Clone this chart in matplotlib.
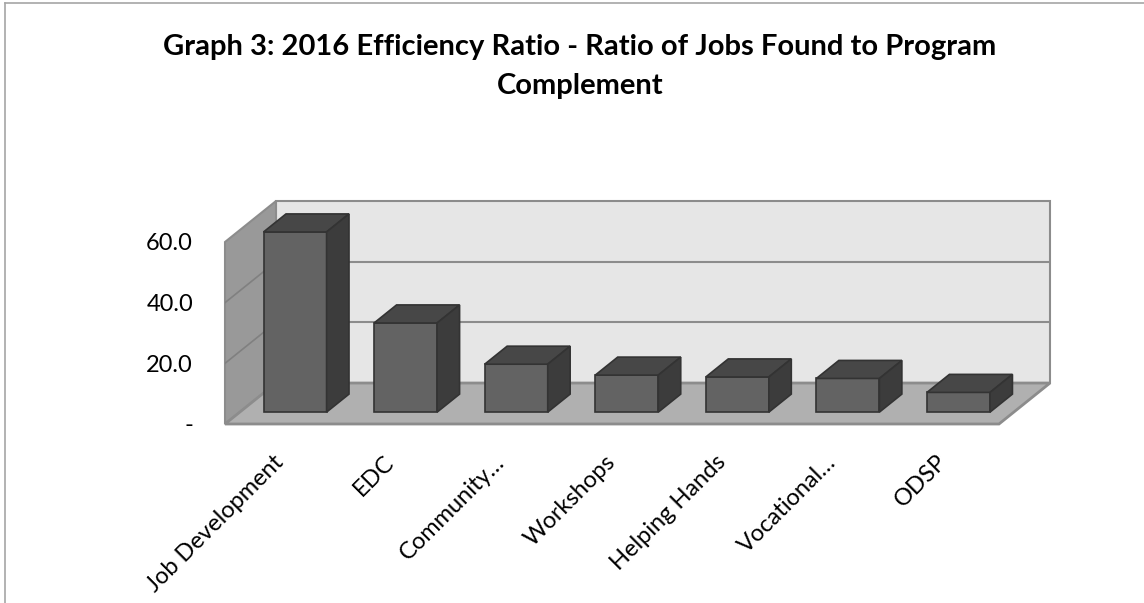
import matplotlib.pyplot as plt
from matplotlib.patches import Polygon
from matplotlib.lines import Line2D
import numpy as np

# Chart data
categories = ['Job Development', 'EDC', 'Community…', 'Workshops',
              'Helping Hands', 'Vocational…', 'ODSP']
values = [59.4, 29.4, 15.8, 12.2, 11.6, 11.1, 6.5]
y_ticks = [0, 20, 40, 60]
y_tick_labels = ['-', '20.0', '40.0', '60.0']
title_lines = ['Graph 3: 2016 Efficiency Ratio - Ratio of Jobs Found to Program',
               'Complement']

plt.rcParams['font.family'] = ['Lato', 'DejaVu Sans']

W, H = 1144, 603

# oblique 3D look: depth offset in data units
DX = 0.461
DY = 13.5
bar_w = 0.57
t0, t1 = 0.29, 0.73
y_top = 60

wall_back = '#e6e6e6'
wall_left = '#999999'
floor_col = '#b0b0b0'
edge_wall = '#8c8c8c'
bar_front = '#636363'
bar_top = '#474747'
bar_side = '#3c3c3c'
bar_edge = '#333333'

fig = plt.figure(figsize=(W / 100, H / 100), dpi=100)
n = len(categories)
px_x = 774 / n
px_y = 182 / y_top
xmax, ymax = 7.5, 75
ax = fig.add_axes([225 / W, (H - 424) / H, xmax * px_x / W, ymax * px_y / H])
ax.set_xlim(0, xmax)
ax.set_ylim(0, ymax)
for s in ax.spines.values():
    s.set_visible(False)
ax.patch.set_alpha(0)


def P(x, t, z):
    return (x + t * DX, z + t * DY)


def poly(pts, fc, ec, lw=1.0, z=1):
    ax.add_patch(Polygon(pts, closed=True, facecolor=fc, edgecolor=ec, linewidth=lw,
                         zorder=z, joinstyle='miter', clip_on=False))


# back wall
poly([P(0, 1, 0), P(n, 1, 0), P(n, 1, y_top), P(0, 1, y_top)], wall_back, edge_wall, 1.5, 1)
for v in y_ticks[1:-1]:
    ax.plot([P(0, 1, v)[0], P(n, 1, v)[0]], [P(0, 1, v)[1], P(n, 1, v)[1]],
            color=edge_wall, lw=1.5, zorder=2, solid_capstyle='butt')

# left wall
poly([P(0, 0, 0), P(0, 1, 0), P(0, 1, y_top), P(0, 0, y_top)], wall_left, edge_wall, 1.5, 3)
for v in y_ticks[1:-1]:
    ax.plot([P(0, 0, v)[0], P(0, 1, v)[0]], [P(0, 0, v)[1], P(0, 1, v)[1]],
            color='#808080', lw=1.2, zorder=4)

# floor
poly([P(0, 0, 0), P(n, 0, 0), P(n, 1, 0), P(0, 1, 0)], floor_col, edge_wall, 2.0, 5)

# bars
for i, v in enumerate(values):
    x0 = i + (1 - bar_w) / 2
    x1 = x0 + bar_w
    poly([P(x0, t0, 0), P(x1, t0, 0), P(x1, t0, v), P(x0, t0, v)], bar_front, bar_edge, 1.2, 10)
    poly([P(x0, t0, v), P(x1, t0, v), P(x1, t1, v), P(x0, t1, v)], bar_top, bar_edge, 1.2, 10)
    poly([P(x1, t0, 0), P(x1, t1, 0), P(x1, t1, v), P(x1, t0, v)], bar_side, bar_edge, 1.2, 10)

ax.set_yticks(y_ticks)
ax.set_yticklabels(y_tick_labels, fontsize=17, color='black')
ax.tick_params(axis='y', length=0, pad=23)
ax.set_xticks(np.arange(n) + 0.5)
ax.set_xticklabels(categories, fontsize=17, rotation=45, ha='right', va='center',
                   rotation_mode='anchor')
ax.tick_params(axis='x', length=0, pad=25)

# title, two lines placed on their baselines
fig.text(580 / W, 1 - 55 / H, title_lines[0], ha='center', va='baseline', fontsize=21,
         fontweight='bold')
fig.text(580 / W, 1 - 94 / H, title_lines[1], ha='center', va='baseline', fontsize=21,
         fontweight='bold')

# outer chart border (top and left)
fig.add_artist(Line2D([5 / W, 1], [1 - 3 / H, 1 - 3 / H], color='#a6a6a6', lw=1.2))
fig.add_artist(Line2D([5 / W, 5 / W], [0, 1 - 3 / H], color='#a6a6a6', lw=1.2))

fig.savefig('out.png', dpi=100, facecolor='white')
